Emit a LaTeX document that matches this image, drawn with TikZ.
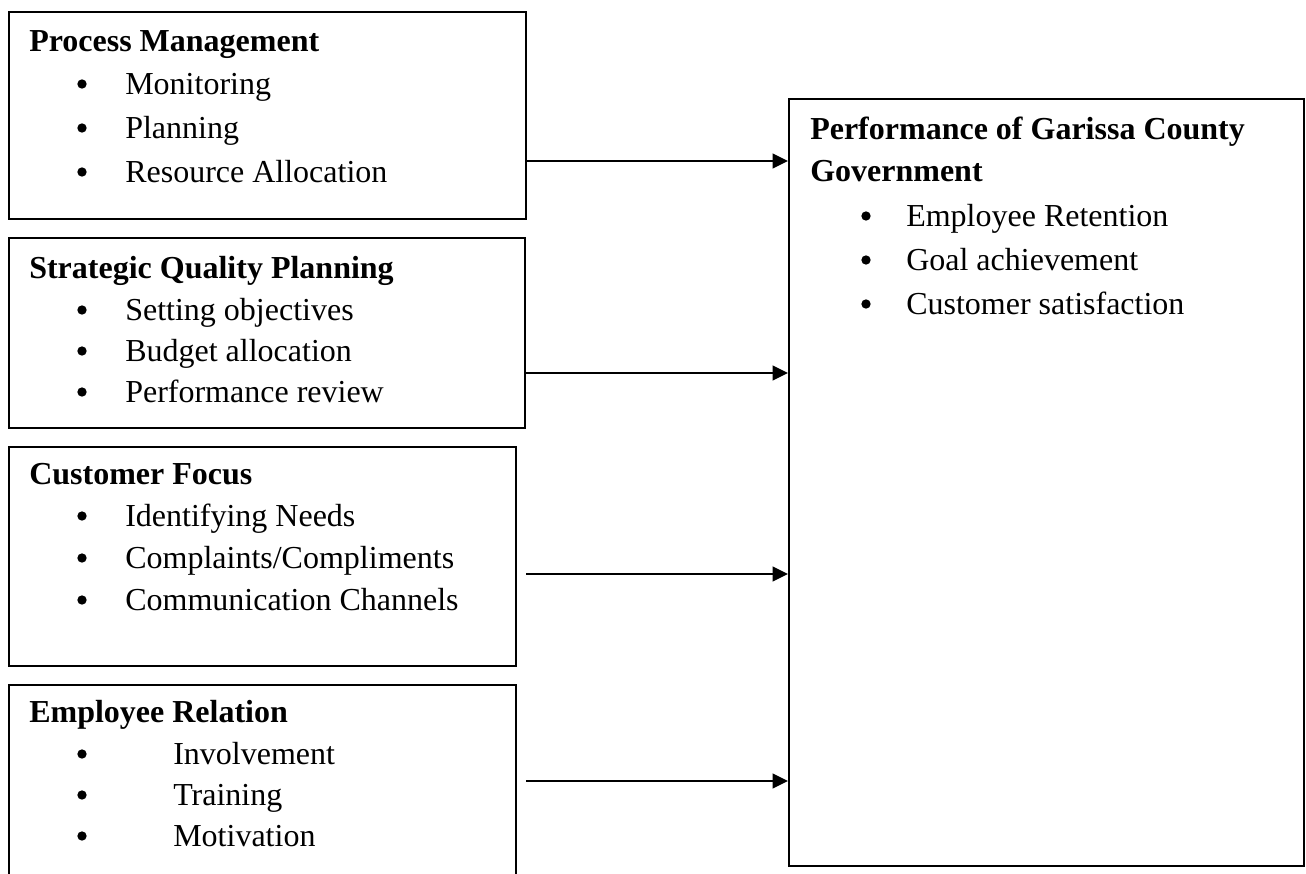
\documentclass[tikz,border=0pt]{standalone}
\usepackage{fontspec}
\setmainfont{Liberation Serif}
\usetikzlibrary{arrows.meta,fit}
\begin{document}
\begin{tikzpicture}[x=0.75pt,y=-0.75pt,
  box/.style={draw, line width=1.5pt, inner sep=0pt, rectangle},
  ttl/.style={anchor=base west, inner sep=0pt, font=\fontsize{24}{28}\selectfont\bfseries},
  itm/.style={anchor=base west, inner sep=0pt, font=\fontsize{24}{28}\selectfont},
  bul/.style={circle, fill, inner sep=0pt, minimum size=7pt, yshift=7.5pt},
  arr/.style={line width=1.6pt, -{Triangle[length=11.5pt,width=11pt]}}]
\useasboundingbox (0,0) rectangle (1306,874);

% boxes
\node[box, fit={(9,12)(526,219)}] (pm) {};
\node[box, fit={(9,238)(525,428)}] (sqp) {};
\node[box, fit={(9,447)(516,666)}] (cf) {};
\node[box, fit={(9,685)(516,900)}] (er) {};
\node[box, fit={(789,99)(1304,866)}] (perf) {};

% Process Management
\node[ttl] (pmt) at (29,52) {Process Management};
\node[bul] (pmb1) at (82,94) {};  \node[itm] (pmi1) at (125,94) {Monitoring};
\node[bul] (pmb2) at (82,138) {}; \node[itm] (pmi2) at (125,138) {Planning};
\node[bul] (pmb3) at (82,182) {}; \node[itm] (pmi3) at (125,182) {Resource Allocation};

% Strategic Quality Planning
\node[ttl] (sqpt) at (29,278) {Strategic Quality Planning};
\node[bul] (sqpb1) at (82,320) {}; \node[itm] (sqpi1) at (125,320) {Setting objectives};
\node[bul] (sqpb2) at (82,361) {}; \node[itm] (sqpi2) at (125,361) {Budget allocation};
\node[bul] (sqpb3) at (82,402) {}; \node[itm] (sqpi3) at (125,402) {Performance review};

% Customer Focus
\node[ttl] (cft) at (29,484) {Customer Focus};
\node[bul] (cfb1) at (82,526) {}; \node[itm] (cfi1) at (125,526) {Identifying Needs};
\node[bul] (cfb2) at (82,568) {}; \node[itm] (cfi2) at (125,568) {Complaints/Compliments};
\node[bul] (cfb3) at (82,610) {}; \node[itm] (cfi3) at (125,610) {Communication Channels};

% Employee Relation
\node[ttl] (ert) at (29,722) {Employee Relation};
\node[bul] (erb1) at (82,764) {}; \node[itm] (eri1) at (173,764) {Involvement};
\node[bul] (erb2) at (82,805) {}; \node[itm] (eri2) at (173,805) {Training};
\node[bul] (erb3) at (82,846) {}; \node[itm] (eri3) at (173,846) {Motivation};

% Performance
\node[ttl] (pt1) at (810,139) {Performance of Garissa County};
\node[ttl] (pt2) at (810,181) {Government};
\node[bul] (pb1) at (866,226) {}; \node[itm] (pi1) at (906,226) {Employee Retention};
\node[bul] (pb2) at (866,270) {}; \node[itm] (pi2) at (906,270) {Goal achievement};
\node[bul] (pb3) at (866,314) {}; \node[itm] (pi3) at (906,314) {Customer satisfaction};

% arrows
\coordinate (a1) at (pm.east |- 0,161);
\coordinate (a2) at (sqp.east |- 0,373);
\coordinate (a3) at (526,574);
\coordinate (a4) at (526,781);
\draw[arr] (a1) -- (perf.west |- a1);
\draw[arr] (a2) -- (perf.west |- a2);
\draw[arr] (a3) -- (perf.west |- a3);
\draw[arr] (a4) -- (perf.west |- a4);
\end{tikzpicture}
\end{document}
